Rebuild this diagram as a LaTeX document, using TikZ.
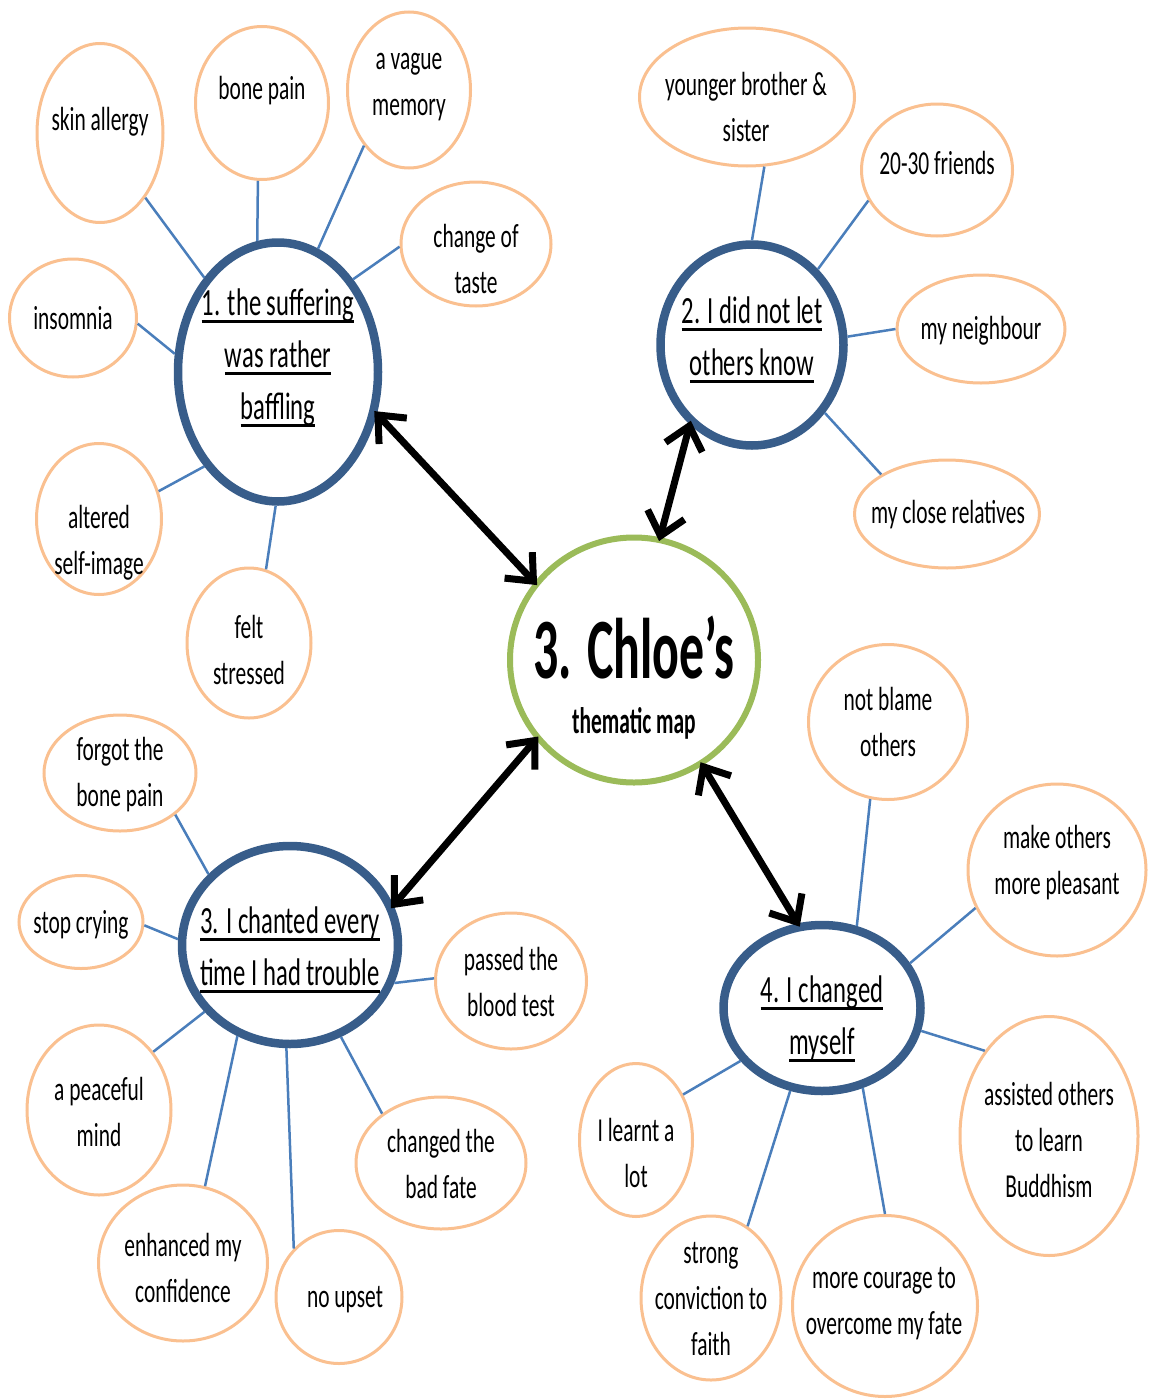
\documentclass[tikz,border=0pt]{standalone}
\usepackage{fontspec}
\setmainfont{Carlito}[FakeStretch=0.64]
\newfontfamily\titlefont{Carlito}[FakeStretch=0.58]
\usetikzlibrary{shapes.geometric,arrows.meta}
\definecolor{hubblue}{HTML}{385D8A}
\definecolor{linkblue}{HTML}{4A7EBB}
\definecolor{leaforange}{HTML}{FAC090}
\definecolor{coregreen}{HTML}{9BBB59}
% thick underline sitting just below the baseline
\newcommand\ul[1]{\setbox0\hbox{#1}\rlap{\rule[-7pt]{\wd0}{2.8pt}}\box0}
\tikzset{
  leaf/.style={ellipse, draw=leaforange, line width=3pt, fill=white, inner sep=0pt},
  hub/.style={ellipse, draw=hubblue, line width=8.5pt, fill=white, inner sep=0pt},
  core/.style={ellipse, draw=coregreen, line width=6pt, fill=white, inner sep=0pt},
  ltxt/.style={align=center, font=\fontsize{33.5}{46}\selectfont, inner sep=0pt},
  htxt/.style={align=center, font=\fontsize{38.5}{52}\selectfont, inner sep=0pt},
  link/.style={draw=linkblue, line width=2.5pt},
  dbl/.style={line width=7pt, shorten <=-4pt, shorten >=-4pt,
    {Straight Barb[length=22pt,width=38pt]}-{Straight Barb[length=22pt,width=38pt]}},
}
\begin{document}
\begin{tikzpicture}[x=1pt,y=-1pt]
\useasboundingbox (0,0) rectangle (1149,1400);

% ---- central theme ----
\node[core, minimum width=248pt, minimum height=245pt] (core) at (634,660) {};
\node[inner sep=0pt, font=\titlefont\bfseries\fontsize{86}{90}\selectfont] (core-t) at (634,648) {3. Chloe’s};
\node[inner sep=0pt, font=\titlefont\bfseries\fontsize{37}{42}\selectfont] (core-s) at (634,723) {thematic map};

% ---- four sub-themes ----
\node[hub, minimum width=200pt, minimum height=259pt] (m1) at (278,372) {};
\node[htxt] (m1-t) at (278,358) {\ul{1. the suffering}\\\ul{was rather}\\\ul{baffling}};
\node[hub, minimum width=183pt, minimum height=201pt] (m2) at (752,345) {};
\node[htxt] (m2-t) at (752,340) {\ul{2. I did not let}\\\ul{others know}};
\node[hub, minimum width=216pt, minimum height=198pt] (m3) at (290,945) {};
\node[htxt] (m3-t) at (290,950) {\ul{3. I chanted every}\\\ul{time I had trouble}};
\node[hub, minimum width=197pt, minimum height=166pt] (m4) at (822,1008) {};
\node[htxt] (m4-t) at (822,1019) {\ul{4. I changed}\\\ul{myself}};

% ---- details of sub-theme 1 ----
\node[leaf, minimum width=126pt, minimum height=179pt] (skin) at (100,133) {};
\node[ltxt] (skin-t) at (100,122) {skin allergy};
\node[leaf, minimum width=133pt, minimum height=153pt] (bone) at (262,103) {};
\node[ltxt] (bone-t) at (262,91) {bone pain};
\node[leaf, minimum width=123pt, minimum height=156pt] (vague) at (409,90) {};
\node[ltxt] (vague-t) at (409,87) {a vague\\memory};
\node[leaf, minimum width=150pt, minimum height=124pt] (taste) at (476,244) {};
\node[ltxt] (taste-t) at (476,259) {change of\\taste};
\node[leaf, minimum width=127pt, minimum height=118pt] (insom) at (73,318) {};
\node[ltxt] (insom-t) at (73,318) {insomnia};
\node[leaf, minimum width=125pt, minimum height=151pt] (alter) at (99,519) {};
\node[ltxt] (alter-t) at (99,543) {altered\\self-image};
\node[leaf, minimum width=124pt, minimum height=150pt] (felt) at (249,643) {};
\node[ltxt] (felt-t) at (249,650) {felt\\stressed};

% ---- details of sub-theme 2 ----
\node[leaf, minimum width=215pt, minimum height=138pt] (young) at (747,97) {};
\node[ltxt] (young-t) at (746,107) {younger brother \&\\sister};
\node[leaf, minimum width=151pt, minimum height=132pt] (friends) at (937,170) {};
\node[ltxt] (friends-t) at (937,163) {20-30 friends};
\node[leaf, minimum width=168pt, minimum height=108pt] (neigh) at (981,329) {};
\node[ltxt] (neigh-t) at (981,331) {my neighbour};
\node[leaf, minimum width=185pt, minimum height=108pt] (relat) at (947,514) {};
\node[ltxt] (relat-t) at (948,515) {my close relatives};

% ---- details of sub-theme 3 ----
\node[leaf, minimum width=152pt, minimum height=116pt] (forgot) at (120,773) {};
\node[ltxt] (forgot-t) at (120,775) {forgot the\\bone pain};
\node[leaf, minimum width=124pt, minimum height=93pt] (stop) at (81,922) {};
\node[ltxt] (stop-t) at (81,925) {stop crying};
\node[leaf, minimum width=151pt, minimum height=136pt] (passed) at (511,981) {};
\node[ltxt] (passed-t) at (511,982) {passed the\\blood test};
\node[leaf, minimum width=144pt, minimum height=170pt] (peace) at (99,1110) {};
\node[ltxt] (peace-t) at (99,1112) {a peaceful\\mind};
\node[leaf, minimum width=169pt, minimum height=156pt] (enh) at (183,1263) {};
\node[ltxt] (enh-t) at (183,1268) {enhanced my\\confidence};
\node[leaf, minimum width=126pt, minimum height=133pt] (upset) at (339,1297) {};
\node[ltxt] (upset-t) at (345,1300) {no upset};
\node[leaf, minimum width=170pt, minimum height=132pt] (fate) at (441,1163) {};
\node[ltxt] (fate-t) at (441,1164) {changed the\\bad fate};

% ---- details of sub-theme 4 ----
\node[leaf, minimum width=159pt, minimum height=155pt] (blame) at (888,722) {};
\node[ltxt] (blame-t) at (888,722) {not blame\\others};
\node[leaf, minimum width=178pt, minimum height=172pt] (pleas) at (1057,870) {};
\node[ltxt] (pleas-t) at (1057,863) {make others\\more pleasant};
\node[leaf, minimum width=178pt, minimum height=239pt] (budd) at (1049,1136) {};
\node[ltxt] (budd-t) at (1049,1140) {assisted others\\to learn\\Buddhism};
\node[leaf, minimum width=185pt, minimum height=181pt] (courage) at (885,1306) {};
\node[ltxt] (courage-t) at (884,1304) {more courage to\\overcome my fate};
\node[leaf, minimum width=140pt, minimum height=164pt] (faith) at (711,1298) {};
\node[ltxt] (faith-t) at (711,1299) {strong\\conviction to\\faith};
\node[leaf, minimum width=113pt, minimum height=153pt] (learnt) at (636,1140) {};
\node[ltxt] (learnt-t) at (636,1153) {I learnt a\\lot};

% ---- connectors: details to sub-themes ----
\draw[link] (skin.-55) -- (m1.128);
\draw[link] (bone.-93) -- (m1.99);
\draw[link] (vague.-129) -- (m1.72);
\draw[link] (taste.182) -- (m1.51);
\draw[link] (insom.-5) -- (m1.170);
\draw[link] (alter.25) -- (m1.-128);
\draw[link] (felt.77) -- (m1.-91);

\draw[link] (young.-76) -- (m2.90);
\draw[link] (friends.-156) -- (m2.49);
\draw[link] (neigh.180) -- (m2.5);
\draw[link] (relat.149) -- (m2.-43);

\draw[link] (forgot.-37) -- (m3.139);
\draw[link] (stop.-3) -- (m3.177);
\draw[link] (passed.178) -- (m3.-20);
\draw[link] (peace.47) -- (m3.-142);
\draw[link] (enh.74) -- (m3.-120);
\draw[link] (upset.133) -- (m3.-92);
\draw[link] (fate.140) -- (m3.-61);

\draw[link] (blame.-103) -- (m4.67);
\draw[link] (pleas.-155) -- (m4.27);
\draw[link] (budd.127) -- (m4.-13);
\draw[link] (courage.90) -- (m4.-63);
\draw[link] (faith.63) -- (m4.-111);
\draw[link] (learnt.44) -- (m4.-147);

% ---- two-way arrows: sub-themes to the central theme ----
\draw[dbl] (m1.-23) -- (core.142);
\draw[dbl] (m2.-128) -- (core.78);
\draw[dbl] (m3.21) -- (core.-141);
\draw[dbl] (m4.106) -- (core.-57);
\end{tikzpicture}
\end{document}
